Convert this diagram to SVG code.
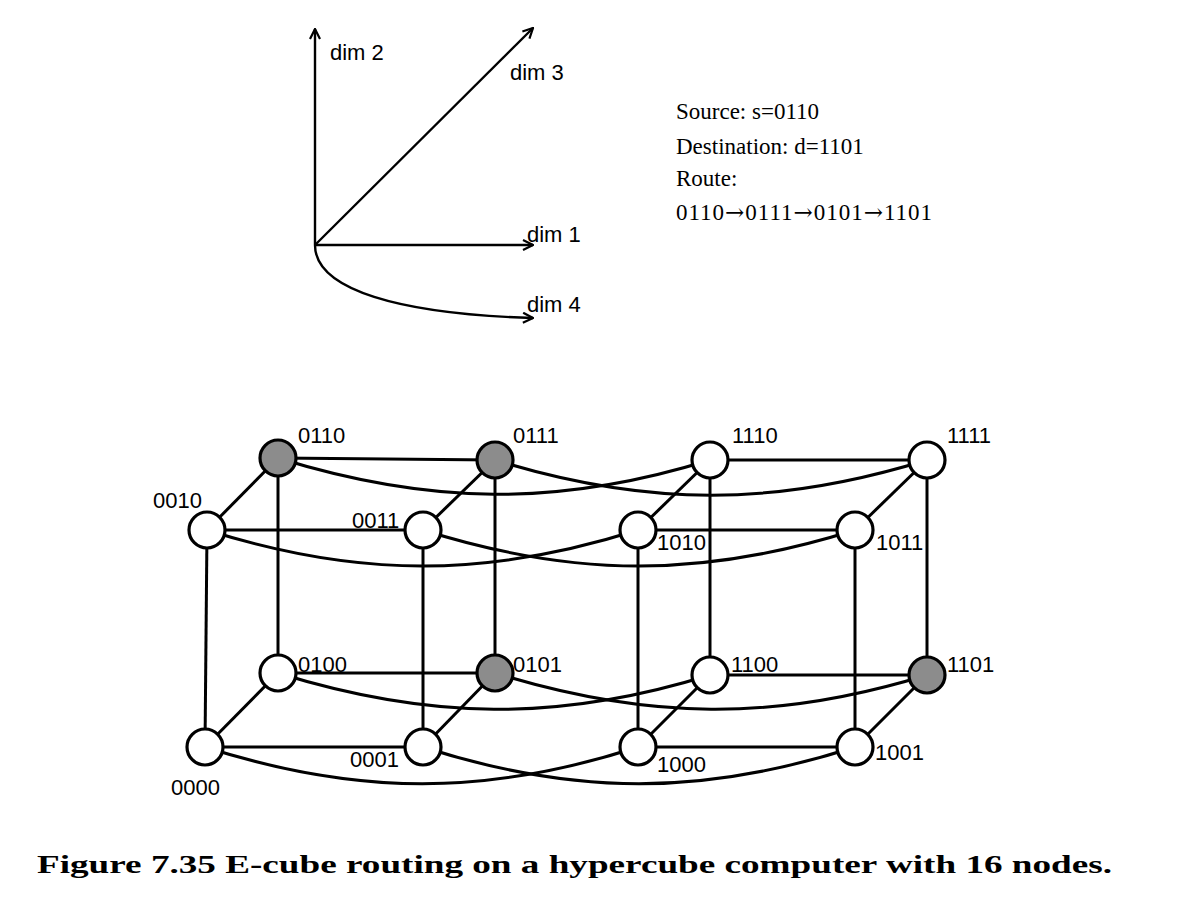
<svg xmlns="http://www.w3.org/2000/svg" width="1200" height="905" viewBox="0 0 1200 905">
<defs>
<marker id="arr" viewBox="0 0 12 12" refX="11" refY="6" markerWidth="12" markerHeight="12" markerUnits="userSpaceOnUse" orient="auto">
<path d="M1,1 L11,6 L1,11" fill="none" stroke="#000" stroke-width="2.2"/>
</marker>
</defs>
<style>
.ax{fill:none;stroke:#000;stroke-width:2.4}
.e{fill:none;stroke:#000;stroke-width:3}
.n{fill:#fff;stroke:#000;stroke-width:3.2}
.s{fill:#8c8c8c;stroke:#000;stroke-width:3.2}
.lb{font-family:"Liberation Sans",Arial,sans-serif;font-size:22px;fill:#000}
.tx{font-family:"Liberation Serif","Times New Roman",serif;font-size:23px;fill:#000}
.ar{font-family:"DejaVu Serif",serif}
.cap{font-family:"Liberation Serif","Times New Roman",serif;font-size:26px;font-weight:bold;fill:#000}
</style>
<rect width="1200" height="905" fill="#fff"/>
<g id="axes">
<line class="ax" x1="315" y1="245" x2="315" y2="29" marker-end="url(#arr)"/>
<line class="ax" x1="315" y1="245" x2="533" y2="28" marker-end="url(#arr)"/>
<line class="ax" x1="315" y1="245" x2="533" y2="245" marker-end="url(#arr)"/>
<path class="ax" d="M315,245 C315,290 400,314 533,318" marker-end="url(#arr)"/>
<text class="lb" x="330" y="60">dim 2</text>
<text class="lb" x="510" y="80">dim 3</text>
<text class="lb" x="527" y="242">dim 1</text>
<text class="lb" x="527" y="312">dim 4</text>
</g>
<g id="info">
<text class="tx" x="676" y="119">Source: s=0110</text>
<text class="tx" x="676" y="154">Destination: d=1101</text>
<text class="tx" x="676" y="186">Route:</text>
<text class="tx" x="676" y="220" textLength="256">0110<tspan class="ar">→</tspan>0111<tspan class="ar">→</tspan>0101<tspan class="ar">→</tspan>1101</text>
</g>
<g id="connectors">
<line class="e" x1="278" y1="458" x2="495" y2="460"/>
<line class="e" x1="710" y1="460" x2="927" y2="460"/>
<line class="e" x1="207" y1="530" x2="423" y2="530"/>
<line class="e" x1="638" y1="530" x2="855" y2="530"/>
<line class="e" x1="278" y1="673" x2="495" y2="673"/>
<line class="e" x1="710" y1="675" x2="927" y2="675"/>
<line class="e" x1="205" y1="747" x2="423" y2="747"/>
<line class="e" x1="638" y1="747" x2="855" y2="747"/>
<line class="e" x1="207" y1="530" x2="278" y2="458"/>
<line class="e" x1="423" y1="530" x2="495" y2="460"/>
<line class="e" x1="638" y1="530" x2="710" y2="460"/>
<line class="e" x1="855" y1="530" x2="927" y2="460"/>
<line class="e" x1="205" y1="747" x2="278" y2="673"/>
<line class="e" x1="423" y1="747" x2="495" y2="673"/>
<line class="e" x1="638" y1="747" x2="710" y2="675"/>
<line class="e" x1="855" y1="747" x2="927" y2="675"/>
<line class="e" x1="207" y1="530" x2="205" y2="747"/>
<line class="e" x1="278" y1="458" x2="278" y2="673"/>
<line class="e" x1="423" y1="530" x2="423" y2="747"/>
<line class="e" x1="495" y1="460" x2="495" y2="673"/>
<line class="e" x1="638" y1="530" x2="638" y2="747"/>
<line class="e" x1="710" y1="460" x2="710" y2="675"/>
<line class="e" x1="855" y1="530" x2="855" y2="747"/>
<line class="e" x1="927" y1="460" x2="927" y2="675"/>
<path class="e" d="M278,458 C429,505 559,507 710,460"/>
<path class="e" d="M495,460 C647,507 775,507 927,460"/>
<path class="e" d="M207,530 C358,578 487,578 638,530"/>
<path class="e" d="M423,530 C575,578 703,578 855,530"/>
<path class="e" d="M278,673 C429,720 559,722 710,675"/>
<path class="e" d="M495,673 C647,720 775,722 927,675"/>
<path class="e" d="M205,747 C358,796 487,796 638,747"/>
<path class="e" d="M423,747 C575,796 703,796 855,747"/>
</g>
<g id="n0110"><circle class="s" cx="278" cy="458" r="18"/><text class="lb" x="298" y="443">0110</text></g>
<g id="n0111"><circle class="s" cx="495" cy="460" r="18"/><text class="lb" x="513" y="443">0111</text></g>
<g id="n1110"><circle class="n" cx="710" cy="460" r="18"/><text class="lb" x="732" y="443">1110</text></g>
<g id="n1111"><circle class="n" cx="927" cy="460" r="18"/><text class="lb" x="947" y="443">1111</text></g>
<g id="n0010"><circle class="n" cx="207" cy="530" r="18"/><text class="lb" x="153" y="508">0010</text></g>
<g id="n0011"><circle class="n" cx="423" cy="530" r="18"/><text class="lb" x="352" y="528">0011</text></g>
<g id="n1010"><circle class="n" cx="638" cy="530" r="18"/><text class="lb" x="657" y="550">1010</text></g>
<g id="n1011"><circle class="n" cx="855" cy="530" r="18"/><text class="lb" x="876" y="550">1011</text></g>
<g id="n0100"><circle class="n" cx="278" cy="673" r="18"/><text class="lb" x="298" y="672">0100</text></g>
<g id="n0101"><circle class="s" cx="495" cy="673" r="18"/><text class="lb" x="513" y="672">0101</text></g>
<g id="n1100"><circle class="n" cx="710" cy="675" r="18"/><text class="lb" x="731" y="672">1100</text></g>
<g id="n1101"><circle class="s" cx="927" cy="675" r="18"/><text class="lb" x="947" y="672">1101</text></g>
<g id="n0000"><circle class="n" cx="205" cy="747" r="18"/><text class="lb" x="171" y="795">0000</text></g>
<g id="n0001"><circle class="n" cx="423" cy="747" r="18"/><text class="lb" x="350" y="767">0001</text></g>
<g id="n1000"><circle class="n" cx="638" cy="747" r="18"/><text class="lb" x="657" y="772">1000</text></g>
<g id="n1001"><circle class="n" cx="855" cy="747" r="18"/><text class="lb" x="875" y="760">1001</text></g>
<text class="cap" x="37" y="873" textLength="1075" lengthAdjust="spacingAndGlyphs">Figure 7.35 E-cube routing on a hypercube computer with 16 nodes.</text>
</svg>
